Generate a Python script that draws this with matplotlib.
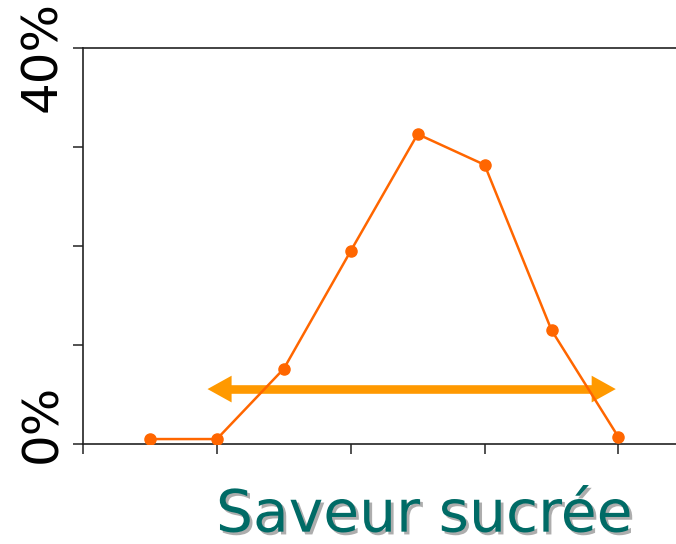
import matplotlib.pyplot as plt
import matplotlib.patheffects as pe

# sweetness levels and share of answers (%)
levels = [0.5, 1, 1.5, 2, 2.5, 3, 3.5, 4]
shares = [0.5, 0.5, 7.6, 19.5, 31.3, 28.2, 11.5, 0.7]
arrow_span = [0.93, 3.98]
arrow_level = 5.55

fig = plt.figure(figsize=(6.76, 5.44), dpi=100)
ax = fig.add_axes([0.1228, 0.1838, 0.8772, 0.728])

ax.plot(levels, shares, color='#FF6600', lw=1.8, marker='o', ms=8, zorder=3)

# double arrow: thick shaft + two filled heads
head_len = 0.18
ax.plot([arrow_span[0] + head_len / 2, arrow_span[1] - head_len / 2],
        [arrow_level, arrow_level], color='#FF9900', lw=6.2,
        solid_capstyle='butt', zorder=2)
for tip, d in ((arrow_span[0], -1), (arrow_span[1], 1)):
    ax.arrow(tip - d * head_len, arrow_level, d * head_len, 0, width=0.01,
             head_width=2.7, head_length=head_len, length_includes_head=True,
             color='#FF9900', lw=0, zorder=2)

ax.set_xlim(0, 4.43)
ax.set_ylim(0, 40)
ax.set_xticks([0, 1, 2, 3, 4])
ax.set_yticks([0, 10, 20, 30, 40])
ax.set_xticklabels([])
ax.set_yticklabels([])
ax.tick_params(length=7, width=1.2, color='#333333')
ax.spines['right'].set_visible(False)
for s in ['left', 'bottom', 'top']:
    ax.spines[s].set_linewidth(1.2)
    ax.spines[s].set_color('#222222')

fig.text(0.062, 0.897, '40%', rotation=90, fontsize=36, ha='center', va='center')
fig.text(0.062, 0.222, '0%', rotation=90, fontsize=36, ha='center', va='center')

fig.text(0.628, 0.053, 'Saveur sucrée', fontsize=42, color='#006B66',
         ha='center', va='center',
         path_effects=[pe.withSimplePatchShadow(offset=(2, -2), shadow_rgbFace='#999999', alpha=0.8)])

fig.savefig('out.png', dpi=100)
